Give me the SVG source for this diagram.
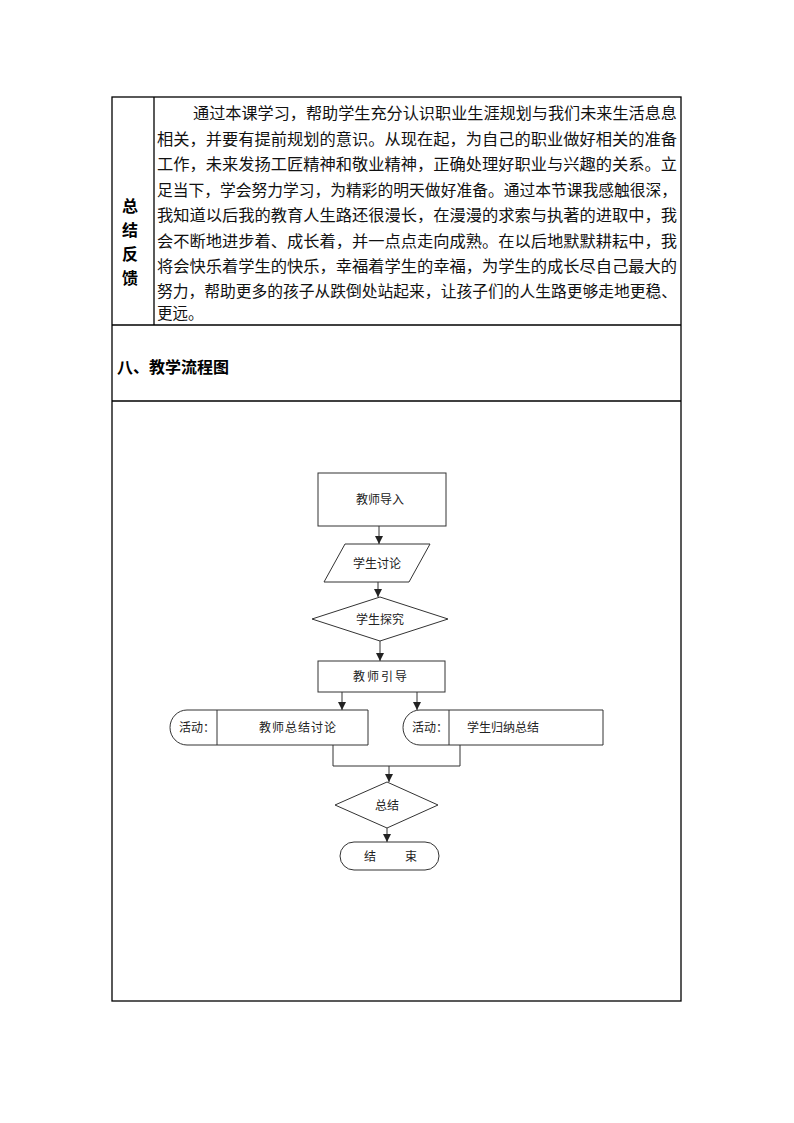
<svg xmlns="http://www.w3.org/2000/svg" width="794" height="1123" viewBox="0 0 794 1123">
<defs>
<style>
.tbl{fill:none;stroke:#000;stroke-width:1.3}
.body{font-family:"Noto Sans CJK SC","Liberation Serif",serif;font-size:15.5px;fill:#111}
.hd{font-family:"Noto Sans CJK SC","Liberation Sans",sans-serif;font-size:16px;font-weight:bold;fill:#000}
.shape{fill:#fff;stroke:#333;stroke-width:1}
.ft{font-family:"Noto Sans CJK SC","Liberation Sans",sans-serif;font-size:12px;fill:#222;text-anchor:middle}
.conn{fill:none;stroke:#333;stroke-width:1}
</style>
<marker id="ah" viewBox="0 0 8 8" refX="8" refY="4" markerWidth="8" markerHeight="8" markerUnits="userSpaceOnUse" orient="auto">
<path d="M0,0 L8,4 L0,8 Z" fill="#222"/>
</marker>
</defs>
<rect width="794" height="1123" fill="#fff"/>
<g id="table">
<rect class="tbl" x="112" y="97" width="569" height="904"/>
<line class="tbl" x1="154" y1="97" x2="154" y2="325"/>
<line class="tbl" x1="112" y1="325" x2="681" y2="325"/>
<line class="tbl" x1="112" y1="401" x2="681" y2="401"/>
</g>
<g id="summary-label" class="hd" text-anchor="middle">
<text x="130" y="212">总</text>
<text x="130" y="236">结</text>
<text x="130" y="260">反</text>
<text x="130" y="284">馈</text>
</g>
<g id="summary-text" class="body">
<text x="193" y="119" textLength="484" lengthAdjust="spacingAndGlyphs">通过本课学习，帮助学生充分认识职业生涯规划与我们未来生活息息</text>
<text x="157" y="145" textLength="520" lengthAdjust="spacingAndGlyphs">相关，并要有提前规划的意识。从现在起，为自己的职业做好相关的准备</text>
<text x="157" y="170" textLength="520" lengthAdjust="spacingAndGlyphs">工作，未来发扬工匠精神和敬业精神，正确处理好职业与兴趣的关系。立</text>
<text x="157" y="196" textLength="520" lengthAdjust="spacingAndGlyphs">足当下，学会努力学习，为精彩的明天做好准备。通过本节课我感触很深，</text>
<text x="157" y="221" textLength="520" lengthAdjust="spacingAndGlyphs">我知道以后我的教育人生路还很漫长，在漫漫的求索与执著的进取中，我</text>
<text x="157" y="247" textLength="520" lengthAdjust="spacingAndGlyphs">会不断地进步着、成长着，并一点点走向成熟。在以后地默默耕耘中，我</text>
<text x="157" y="272" textLength="520" lengthAdjust="spacingAndGlyphs">将会快乐着学生的快乐，幸福着学生的幸福，为学生的成长尽自己最大的</text>
<text x="157" y="297" textLength="520" lengthAdjust="spacingAndGlyphs">努力，帮助更多的孩子从跌倒处站起来，让孩子们的人生路更够走地更稳、</text>
<text x="157" y="319">更远。</text>
</g>
<g id="section-title">
<text class="hd" x="117" y="373">八、教学流程图</text>
</g>
<g id="connectors">
<line class="conn" x1="379" y1="526" x2="379" y2="544" marker-end="url(#ah)"/>
<line class="conn" x1="378" y1="582" x2="378" y2="597" marker-end="url(#ah)"/>
<line class="conn" x1="380" y1="641" x2="380" y2="661" marker-end="url(#ah)"/>
<line class="conn" x1="342" y1="692" x2="342" y2="710" marker-end="url(#ah)"/>
<line class="conn" x1="417" y1="692" x2="417" y2="710" marker-end="url(#ah)"/>
<polyline class="conn" points="333,745 333,766 460,766 460,745"/>
<line class="conn" x1="389" y1="766" x2="389" y2="782" marker-end="url(#ah)"/>
<line class="conn" x1="387" y1="828" x2="387" y2="842" marker-end="url(#ah)"/>
</g>
<g id="n-intro">
<rect class="shape" x="318" y="473" width="128" height="53"/>
<text class="ft" x="380" y="504">教师导入</text>
</g>
<g id="n-discuss">
<polygon class="shape" points="345,544 430,544 409,582 324,582"/>
<text class="ft" x="377" y="568">学生讨论</text>
</g>
<g id="n-explore">
<polygon class="shape" points="380,597 448,619 380,641 312,619"/>
<text class="ft" x="380" y="624">学生探究</text>
</g>
<g id="n-guide">
<rect class="shape" x="318" y="661" width="127" height="31"/>
<text class="ft" x="381" y="681" letter-spacing="2">教师引导</text>
</g>
<g id="n-act-left">
<path class="shape" d="M187,710 H368 V745 H187 A17,17.5 0 0 1 187,710 Z"/>
<line class="conn" x1="217" y1="710" x2="217" y2="745"/>
<text class="ft" x="197" y="732">活动：</text>
<text class="ft" x="298" y="732" letter-spacing="1">教师总结讨论</text>
</g>
<g id="n-act-right">
<path class="shape" d="M420,710 H603 V745 H420 A17,17.5 0 0 1 420,710 Z"/>
<line class="conn" x1="449" y1="710" x2="449" y2="745"/>
<text class="ft" x="430" y="732">活动：</text>
<text class="ft" x="503" y="732">学生归纳总结</text>
</g>
<g id="n-summary">
<polygon class="shape" points="387,782 438,805 387,828 335,805"/>
<text class="ft" x="387" y="810">总结</text>
</g>
<g id="n-end">
<rect class="shape" x="340" y="842" width="99" height="28" rx="14" ry="14"/>
<text class="ft" x="370" y="861">结</text>
<text class="ft" x="411" y="861">束</text>
</g>
</svg>
